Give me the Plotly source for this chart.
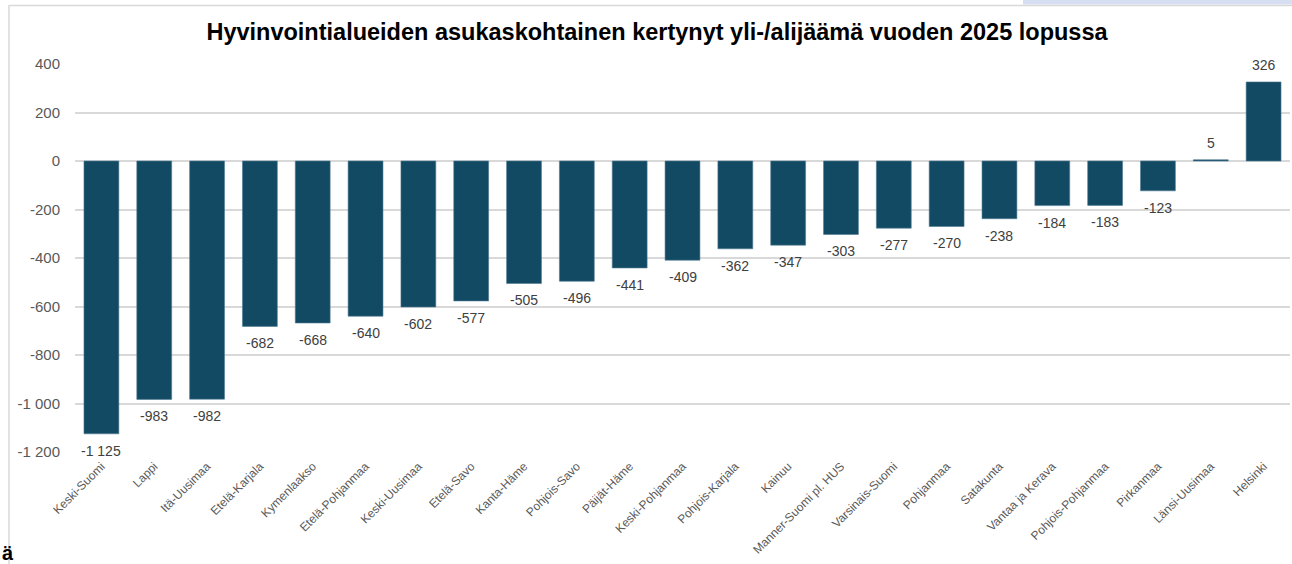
import plotly.graph_objects as go

categories = [
    "Keski-Suomi", "Lappi", "Itä-Uusimaa", "Etelä-Karjala", "Kymenlaakso",
    "Etelä-Pohjanmaa", "Keski-Uusimaa", "Etelä-Savo", "Kanta-Häme", "Pohjois-Savo",
    "Päijät-Häme", "Keski-Pohjanmaa", "Pohjois-Karjala", "Kainuu",
    "Manner-Suomi pl. HUS", "Varsinais-Suomi", "Pohjanmaa", "Satakunta",
    "Vantaa ja Kerava", "Pohjois-Pohjanmaa", "Pirkanmaa", "Länsi-Uusimaa", "Helsinki",
]
values = [
    -1125, -983, -982, -682, -668, -640, -602, -577, -505, -496,
    -441, -409, -362, -347, -303, -277, -270, -238, -184, -183,
    -123, 5, 326,
]
tick_values = [400, 200, 0, -200, -400, -600, -800, -1000, -1200]
tick_labels = ["400", "200", "0", "-200", "-400", "-600", "-800", "-1 000", "-1 200"]

title_text = "Hyvinvointialueiden asukaskohtainen kertynyt yli-/alijäämä vuoden 2025 lopussa"

FONT = "Liberation Sans, Arial, sans-serif"


def fmt(v):
    s = f"{abs(v):,}".replace(",", " ")
    return ("-" if v < 0 else "") + s


W, H = 1292, 564
ML, MR, MT, MB = 75, 2, 64, 112
PW, PH = W - ML - MR, H - MT - MB


def px(x):
    return (x - ML) / PW


def py(y):
    return (H - MB - y) / PH


fig = go.Figure(
    go.Bar(
        x=categories,
        y=values,
        marker=dict(color="#124A63", line=dict(color="#4F7A94", width=0.6)),
        cliponaxis=False,
        width=0.66,
        hoverinfo="x+y",
    )
)

# data labels
for c, v in zip(categories, values):
    fig.add_annotation(
        x=c, y=v, text=fmt(v), showarrow=False,
        yanchor="top" if v < 0 else "bottom",
        yshift=-7 if v < 0 else 7,
        font=dict(family=FONT, size=14, color="#404040"),
    )

fig.update_layout(
    width=W,
    height=H,
    margin=dict(l=ML, r=MR, t=MT, b=MB, autoexpand=False),
    paper_bgcolor="white",
    plot_bgcolor="white",
    showlegend=False,
    title=dict(
        text=title_text,
        xref="container",
        yref="container",
        x=657 / W,
        xanchor="center",
        y=1 - 32 / H,
        yanchor="middle",
        font=dict(family=FONT, size=23.5, color="#000000", weight="bold"),
    ),
    font=dict(family=FONT),
)

fig.update_yaxes(
    range=[-1200, 400],
    tickvals=tick_values,
    ticktext=tick_labels,
    tickfont=dict(size=15, color="#595959"),
    showgrid=True,
    gridcolor="#D9D9D9",
    gridwidth=1.5,
    zeroline=False,
    showline=False,
    ticklabelstandoff=14,
)

fig.update_xaxes(
    tickangle=-45,
    tickfont=dict(size=12, color="#595959"),
    showline=False,
    showgrid=False,
    ticklabelstandoff=4,
)

# frame of the chart area and page artefacts
fig.add_shape(type="rect", xref="paper", yref="paper",
              x0=px(1023), x1=px(W + 5), y0=py(-5), y1=py(4.5),
              fillcolor="#D6DEF2", line=dict(width=0), layer="above")
fig.add_shape(type="line", xref="paper", yref="paper",
              x0=px(9), x1=px(9), y0=py(5), y1=py(H + 5),
              line=dict(color="#D9D9D9", width=1.5), layer="above")
fig.add_shape(type="line", xref="paper", yref="paper",
              x0=px(9), x1=px(W + 5), y0=py(5.5), y1=py(5.5),
              line=dict(color="#D9D9D9", width=1.5), layer="above")
fig.add_annotation(xref="paper", yref="paper", x=px(0), y=py(553),
                   xanchor="left", yanchor="middle", text="<b>ä</b>", showarrow=False,
                   font=dict(family=FONT, size=20, color="#000000"))

fig.write_html(
    "out.html",
    config={"displayModeBar": False},
    post_script="document.body.style.margin='0';document.body.style.overflow='hidden';",
)
